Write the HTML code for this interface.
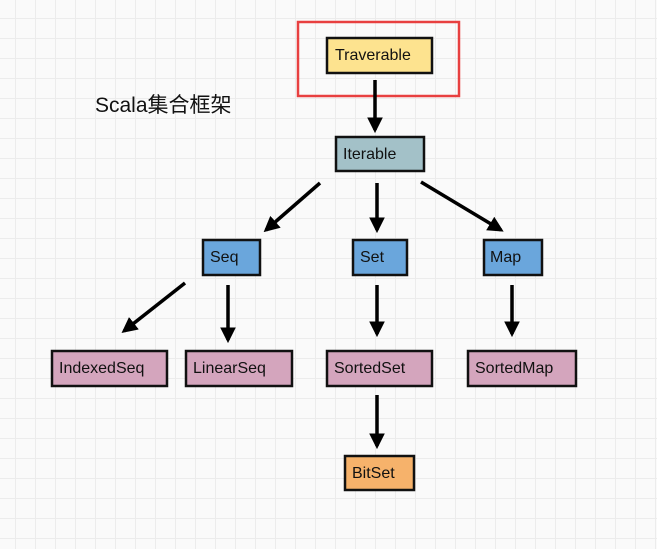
<!DOCTYPE html>
<html><head><meta charset="utf-8"><style>
html,body{margin:0;padding:0;}
body{width:657px;height:549px;background:#fafafa;overflow:hidden;
background-image:linear-gradient(#ececec 1px,transparent 1px),linear-gradient(90deg,#ececec 1px,transparent 1px);
background-size:20px 20px;background-position:15px 18px;}
svg{position:absolute;left:0;top:0;}
text{font-family:"Liberation Sans","Noto Sans CJK SC",sans-serif;font-size:16px;fill:#111;}
</style></head><body>
<svg width="657" height="549" viewBox="0 0 657 549">
<defs><marker id="a" viewBox="0 0 10 10" refX="8" refY="5" markerWidth="4.5" markerHeight="4.5" orient="auto"><path d="M0,0 L10,5 L0,10 z" fill="#000"/></marker></defs>
<rect x="298" y="22" width="161" height="74" fill="none" stroke="#e84040" stroke-width="2.5"/>
<text x="95" y="112" style="font-size:21px">Scala集合框架</text>
<g stroke="#000" stroke-width="3.5" marker-end="url(#a)">
<line x1="375" y1="80" x2="375" y2="130"/>
<line x1="320" y1="183" x2="266" y2="230"/>
<line x1="377" y1="183" x2="377" y2="230"/>
<line x1="421" y1="182" x2="501" y2="230"/>
<line x1="185" y1="283" x2="124" y2="331"/>
<line x1="228" y1="285" x2="228" y2="340"/>
<line x1="377" y1="285" x2="377" y2="334"/>
<line x1="512" y1="285" x2="512" y2="334"/>
<line x1="377" y1="395" x2="377" y2="446"/>
</g>
<g stroke="#111" stroke-width="2.5">
<rect x="327" y="38" width="105" height="35" fill="#fde38f"/>
<rect x="336" y="137" width="88" height="34" fill="#a3c1c8"/>
<rect x="203" y="240" width="57" height="35" fill="#6aa6dc"/>
<rect x="353" y="240" width="54" height="35" fill="#6aa6dc"/>
<rect x="484" y="240" width="58" height="35" fill="#6aa6dc"/>
<rect x="52" y="351" width="115" height="35" fill="#d4a5bd"/>
<rect x="186" y="351" width="106" height="35" fill="#d4a5bd"/>
<rect x="327" y="351" width="105" height="35" fill="#d4a5bd"/>
<rect x="468" y="351" width="108" height="35" fill="#d4a5bd"/>
<rect x="345" y="456" width="69" height="34" fill="#f6b26b"/>
</g>
<text x="335" y="60">Traverable</text>
<text x="343" y="159">Iterable</text>
<text x="210" y="262">Seq</text>
<text x="360" y="262">Set</text>
<text x="490" y="262">Map</text>
<text x="59" y="373">IndexedSeq</text>
<text x="193" y="373">LinearSeq</text>
<text x="334" y="373">SortedSet</text>
<text x="475" y="373">SortedMap</text>
<text x="352" y="478">BitSet</text>
</svg>
</body></html>
